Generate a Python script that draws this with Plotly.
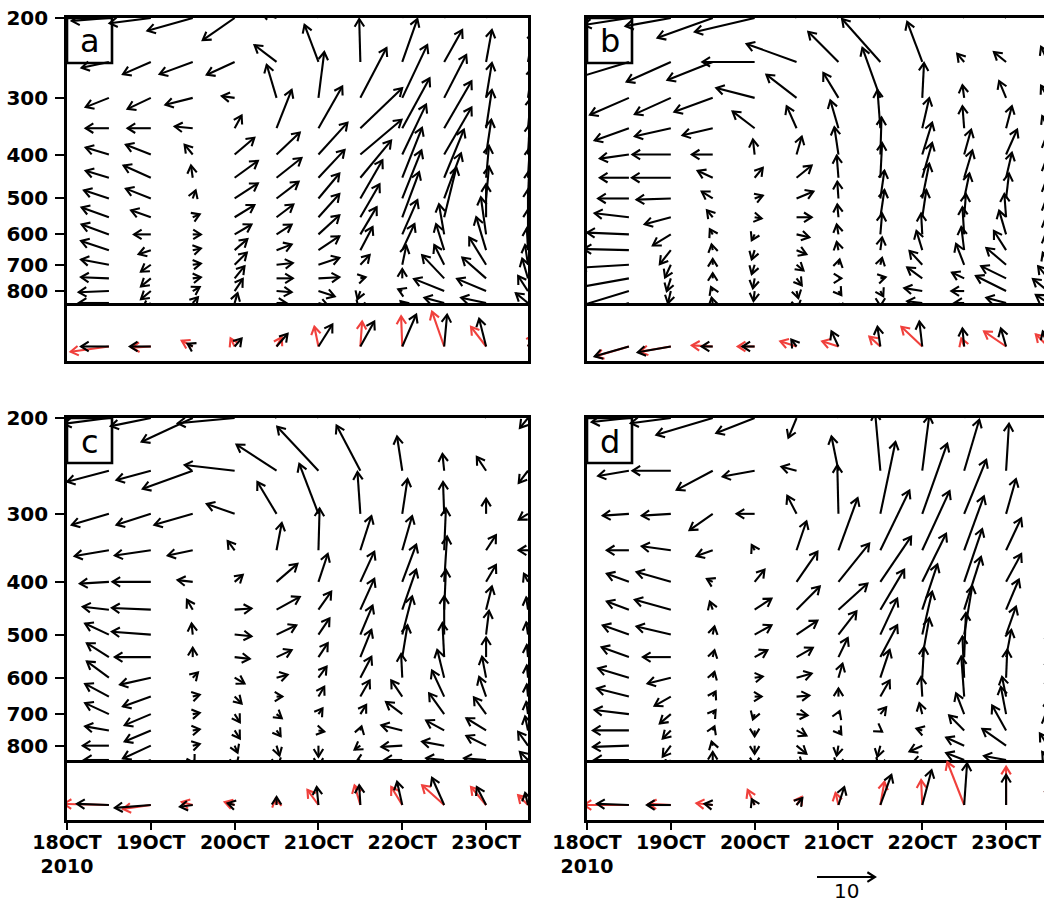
import math
import plotly.graph_objects as go

# ------------------------------------------------------------------ data
LEVELS = [200, 250, 300, 350, 400, 450, 500, 550, 600, 650, 700, 750, 800, 850]   # hPa
HOURS = [12, 24, 36, 48, 60, 72, 84, 96, 108, 120, 132]                           # h since 18 Oct 2010 00 UTC
TICK_HOURS = [0, 24, 48, 72, 96, 120]
TICK_TEXT = ["18OCT<br>2010", "19OCT", "20OCT", "21OCT", "22OCT", "23OCT"]
P_TICKS = [200, 300, 400, 500, 600, 700, 800]
PANEL_LABELS = ["a", "b", "c", "d"]
REF_SPEED = 10

# horizontal component (m/s), rows = LEVELS, cols = HOURS
U_A = [
    [-6.4, -7.1, -7.8, -5.5, -2.6, -0.9, 0.0, 1.7, 1.7, 0.9, 0.9],
    [-4.7, -4.8, -5.7, -4.8, -3.8, -2.4, -0.2, 2.6, 3.1, 1.0, 0.9],
    [-4.0, -4.0, -4.7, -2.2, -1.7, 1.0, 4.5, 4.3, 3.8, 1.0, 0.7],
    [-4.0, -4.0, -3.1, 1.2, 2.6, 4.1, 7.2, 4.7, 4.7, 1.0, 0.5],
    [-4.0, -4.3, -1.4, 3.4, 4.0, 5.0, 7.1, 4.1, 4.7, 0.9, 0.3],
    [-4.0, -4.7, -0.3, 4.0, 4.3, 4.5, 5.3, 3.4, 3.4, 0.5, 0.3],
    [-4.3, -4.3, 0.5, 4.0, 3.8, 3.6, 3.8, 3.3, 2.9, 0.5, 0.2],
    [-4.7, -3.4, 1.2, 3.4, 2.9, 3.6, 3.3, 2.9, 2.1, 0.0, 0.0],
    [-4.7, -2.9, 1.4, 2.9, 2.6, 3.6, 2.8, 2.6, -0.9, -0.9, 0.0],
    [-4.8, -2.1, 1.4, 2.2, 2.6, 3.6, 2.1, 2.1, -1.4, -1.7, -0.2],
    [-4.8, -1.7, 1.4, 2.1, 2.8, 3.6, 1.6, 0.7, -1.7, -2.9, -0.5],
    [-4.8, -1.7, 1.4, 1.7, 2.8, 3.6, 0.9, 0.0, -3.8, -4.1, -1.0],
    [-5.2, -1.7, 1.2, 1.4, 2.6, 2.8, -0.5, -0.7, -5.2, -5.0, -1.7],
    [-5.2, -1.4, 0.9, 0.5, 1.7, 1.7, -0.3, -0.3, -3.4, -4.3, -2.1],
]
# vertical component (scaled, same vector units)
W_A = [
    [-0.5, -0.9, -2.2, -3.8, 0.9, 3.4, 5.2, 5.2, 4.3, 3.4, 5.2],
    [-1.0, -2.1, -2.1, -2.2, 2.9, 6.4, 7.4, 7.4, 5.5, 5.5, 5.2],
    [-1.6, -1.9, -1.2, 0.3, 5.7, 7.9, 8.6, 9.1, 7.4, 6.0, 5.2],
    [0.0, 0.0, 0.3, 2.2, 6.6, 7.2, 6.9, 8.6, 8.1, 6.6, 5.2],
    [1.2, 1.7, 1.7, 2.9, 3.8, 5.5, 6.0, 8.6, 8.1, 6.0, 5.2],
    [1.2, 2.1, 2.1, 2.9, 3.4, 4.8, 6.4, 8.6, 8.3, 5.5, 5.2],
    [1.4, 1.7, 1.4, 2.6, 2.9, 4.3, 6.6, 8.3, 7.8, 5.5, 4.8],
    [1.7, 1.2, 0.5, 2.1, 2.2, 4.0, 5.7, 7.8, 8.6, 5.7, 4.8],
    [1.7, 0.0, 0.0, 1.7, 1.7, 3.3, 4.7, 5.9, 5.2, 6.4, 4.3],
    [1.6, -0.7, 0.3, 1.9, 1.0, 2.4, 4.0, 4.5, 4.5, 5.7, 3.8],
    [0.9, -1.2, 0.2, 2.1, 0.3, 1.2, 1.7, 3.3, 3.4, 4.7, 3.4],
    [0.2, -1.4, 0.2, 2.1, 0.0, 0.2, 0.2, 1.6, 4.0, 3.6, 3.4],
    [-0.2, -1.4, 0.7, 2.1, -0.2, -0.9, -1.4, 0.3, 2.1, 2.1, 2.6],
    [0.0, -1.0, 1.0, 1.7, 0.0, -0.5, -0.9, 0.3, 0.9, 0.9, 1.7],
]
U_B = [
    [-7.8, -7.8, -9.5, -10.3, -1.7, -4.3, -5.2, -1.7, -0.9, -1.4, -0.9],
    [-9.5, -7.6, -7.8, -9.0, -8.6, -5.2, -6.6, -2.6, -1.2, -2.1, -1.2],
    [-6.7, -6.2, -6.6, -6.6, -5.2, -2.6, -3.1, 0.3, -0.3, -1.2, -1.2],
    [-5.9, -6.2, -5.2, -3.8, -1.7, -1.4, -0.5, 1.2, -0.3, 1.0, -1.0],
    [-5.0, -6.6, -3.6, -0.3, 0.9, -0.7, 0.2, 1.7, 1.2, 1.9, -0.5],
    [-5.0, -6.7, -2.6, 1.4, 2.6, -0.3, 0.3, 1.7, 1.4, 1.0, -0.5],
    [-5.3, -5.9, -1.9, 1.4, 2.9, -0.2, 0.7, 1.2, 0.9, 0.5, -0.5],
    [-5.9, -4.5, -1.0, 1.2, 2.6, -0.2, 0.7, 0.7, 0.3, -0.3, -0.5],
    [-7.2, -3.1, -0.5, -0.5, 2.2, -0.3, 0.3, -0.2, -0.3, -1.2, -0.5],
    [-7.8, -1.9, -0.2, -0.5, 1.7, -0.3, 0.3, -1.0, -0.5, -2.1, -0.5],
    [-8.6, -1.0, 0.0, -0.5, 1.2, 0.2, 0.3, -2.2, -1.4, -3.4, -0.9],
    [-9.5, -0.7, 0.0, -0.3, 0.9, 0.5, 0.9, -2.6, -2.1, -4.3, -1.7],
    [-8.6, -0.5, -0.3, -0.2, 0.3, 0.5, 0.5, -3.1, -2.2, -5.2, -2.6],
    [-7.8, -0.3, -0.2, 0.0, 0.2, 0.3, 0.0, -2.6, -1.7, -3.4, -2.1],
]
W_B = [
    [-1.2, -1.4, -3.4, -2.4, 2.6, 4.3, 5.2, 5.2, 1.7, 1.7, 1.7],
    [-2.9, -3.4, -3.1, 0.0, 3.1, 5.2, 7.4, 6.9, 1.4, 1.7, 2.6],
    [-2.9, -2.8, -2.4, 1.7, 4.0, 4.3, 8.6, 6.0, 2.2, 2.9, 2.1],
    [-2.1, -1.4, -1.2, 2.9, 3.8, 4.8, 6.6, 5.2, 3.8, 3.8, 2.1],
    [-0.7, 0.0, 0.0, 2.6, 3.1, 4.7, 6.4, 5.5, 4.3, 4.3, 2.6],
    [0.0, 0.0, 1.2, 1.7, 2.1, 3.8, 6.0, 6.0, 4.7, 4.3, 2.6],
    [0.0, -0.2, 1.2, 0.5, 1.2, 2.9, 4.8, 6.0, 4.3, 4.3, 2.6],
    [0.7, -1.2, 1.2, -0.2, 0.0, 2.2, 4.7, 4.7, 4.0, 4.0, 2.6],
    [0.3, -1.9, 0.9, -1.0, -0.5, 1.7, 3.6, 3.6, 4.7, 4.1, 2.6],
    [0.2, -2.4, 1.0, -1.6, -0.7, 1.4, 2.2, 3.3, 4.0, 3.3, 2.6],
    [-0.5, -2.2, 1.0, -1.6, -1.0, 0.9, 1.2, 2.4, 3.6, 2.9, 2.1],
    [-1.7, -2.2, 0.9, -1.7, -1.2, 0.0, 0.2, 1.9, 1.0, 2.1, 2.1],
    [-2.6, -2.1, 0.7, -1.7, -1.2, -0.7, -0.9, 0.5, 0.0, 2.6, 2.1],
    [-2.6, -1.7, 0.9, -1.4, -0.9, -1.4, -0.5, 0.3, 0.0, 0.9, 1.4],
]
U_C = [
    [-7.8, -6.9, -8.8, -9.8, -3.4, -2.6, -2.6, -0.3, -0.2, -0.9, -1.4],
    [-7.2, -5.9, -8.6, -8.6, -6.9, -7.1, -4.1, -0.9, -0.3, -1.6, -1.6],
    [-6.4, -5.9, -6.6, -4.8, -3.3, -3.3, -0.5, 0.9, -0.2, 0.0, -1.6],
    [-5.9, -6.2, -4.3, -1.2, 0.9, 0.2, 1.9, 1.7, 0.3, 1.7, -1.6],
    [-5.0, -6.6, -2.6, 1.4, 3.6, 1.6, 2.4, 2.4, 0.5, 1.7, -0.7],
    [-4.5, -6.7, -1.0, 2.9, 4.0, 2.2, 2.4, 2.4, 0.3, 1.0, -0.3],
    [-4.1, -6.7, -0.2, 2.9, 3.4, 1.9, 2.1, 1.7, 0.0, 0.5, -0.3],
    [-3.8, -6.2, 0.0, 2.6, 2.6, 1.6, 1.9, 0.9, -0.3, 0.0, -0.2],
    [-3.8, -5.3, 0.9, 1.7, 1.9, 1.4, 1.9, -0.2, -1.2, -0.7, -0.2],
    [-4.1, -4.8, 1.2, 1.2, 1.0, 1.0, 1.6, -1.9, -2.1, -1.2, -0.2],
    [-4.1, -4.5, 1.2, 0.9, 0.9, 0.7, 1.0, -2.8, -2.6, -2.1, -0.3],
    [-4.1, -4.5, 1.2, 0.9, 0.7, 1.0, 0.2, -3.6, -3.1, -3.4, -0.5],
    [-4.5, -4.8, 1.2, 0.5, 0.5, 0.0, -1.0, -3.6, -3.8, -3.4, -1.7],
    [-4.3, -4.3, 0.3, 0.3, 0.2, 0.0, -0.7, -3.1, -3.1, -3.8, -1.4],
]
W_C = [
    [-1.0, -1.4, -4.1, -0.9, 2.6, 4.3, 5.2, 4.3, 2.1, 1.7, -1.7],
    [-1.9, -1.6, -3.1, 1.0, 4.5, 7.6, 7.8, 5.9, 2.9, 2.4, -2.1],
    [-1.9, -1.9, -1.9, 1.7, 5.5, 8.6, 7.2, 6.0, 5.5, 2.6, -1.0],
    [-1.0, -0.9, -0.9, 1.6, 4.7, 7.2, 5.9, 5.9, 7.2, 2.6, 0.0],
    [-0.3, 0.0, 0.3, 1.2, 3.1, 4.8, 5.2, 6.4, 7.8, 2.9, 1.4],
    [0.5, 0.3, 1.7, 0.2, 2.2, 3.1, 5.3, 6.9, 6.9, 4.0, 2.1],
    [1.9, 0.5, 1.9, -0.3, 1.6, 2.8, 5.0, 6.6, 6.6, 4.1, 2.1],
    [2.4, 0.0, 1.6, -0.3, 1.2, 2.4, 4.7, 5.5, 5.9, 3.4, 2.1],
    [2.8, -1.2, 0.9, -1.0, 0.5, 1.9, 3.6, 4.1, 4.8, 3.6, 2.1],
    [2.2, -1.7, 0.3, -1.2, 0.0, 1.7, 2.8, 2.8, 4.5, 3.4, 2.1],
    [1.9, -1.9, 0.2, -1.4, -0.7, 1.0, 1.6, 2.1, 3.6, 2.9, 2.1],
    [0.7, -1.9, 0.2, -1.4, -1.0, -0.2, 0.7, 0.9, 1.7, 2.1, 2.4],
    [0.0, -2.2, 0.3, -1.2, -1.7, -1.9, -0.7, -0.2, 0.7, 1.7, 2.4],
    [0.0, -1.7, -0.5, -0.9, -1.0, -1.0, -0.3, 0.0, 0.3, 0.3, 1.4],
]
U_D = [
    [-6.4, -6.9, -9.7, -6.6, -1.4, -0.9, -0.9, 0.9, 1.7, 0.3, 0.5],
    [-5.3, -6.6, -6.2, -5.5, -2.6, -1.2, -0.9, 1.2, 2.6, 0.5, 0.5],
    [-4.5, -5.0, -4.0, -3.1, -1.6, -0.2, 2.6, 4.3, 3.8, 1.7, 0.5],
    [-3.8, -5.0, -2.8, -0.5, 1.7, 3.3, 5.0, 4.7, 3.4, 2.6, 0.5],
    [-3.8, -5.9, -1.0, 1.7, 3.6, 5.3, 5.3, 4.1, 3.1, 2.6, 0.5],
    [-3.8, -6.2, -0.5, 2.9, 4.0, 5.0, 4.1, 2.6, 2.9, 2.2, 0.5],
    [-4.5, -5.9, 0.3, 2.9, 3.6, 3.1, 2.9, 1.7, 1.4, 1.7, 0.5],
    [-4.7, -4.8, 0.3, 2.2, 2.8, 1.6, 2.9, 1.2, 0.3, 0.9, 0.3],
    [-5.3, -4.0, 0.3, 1.4, 2.6, 0.7, 1.6, 0.3, -0.3, 0.2, 0.3],
    [-5.5, -2.8, 0.5, 1.2, 2.2, 0.0, 1.6, -0.2, -0.5, -0.7, 0.3],
    [-5.9, -1.9, 0.5, -0.3, 1.9, 0.2, 1.0, -0.5, -1.4, -0.9, 0.0],
    [-6.2, -1.4, 0.3, 0.0, 1.7, 0.5, 0.3, -1.0, -2.6, -2.4, -0.5],
    [-6.2, -1.4, -0.2, 0.0, 1.7, -0.3, -0.5, -2.2, -3.1, -4.1, -1.4],
    [-6.0, -0.9, 0.0, 0.0, 1.0, -0.2, -0.3, -1.7, -3.1, -3.8, -1.0],
]
W_D = [
    [-0.7, -0.9, -2.9, -2.6, -3.4, 4.3, 6.9, 6.9, 6.9, 6.0, 5.2],
    [-0.9, 0.0, -3.3, -1.0, 0.7, 5.9, 10.0, 9.5, 8.8, 8.1, 5.2],
    [-0.3, -0.3, -2.8, 0.0, 3.1, 8.4, 12.4, 12.1, 9.3, 6.0, 5.2],
    [0.0, 0.7, -1.0, 0.9, 5.0, 9.0, 10.3, 10.2, 9.3, 5.5, 5.2],
    [1.4, 1.7, 0.5, 2.1, 5.2, 6.6, 7.8, 8.3, 9.1, 4.8, 4.3],
    [1.4, 1.7, 1.4, 1.9, 4.0, 4.5, 6.9, 7.8, 9.1, 5.2, 4.3],
    [1.6, 1.4, 1.4, 1.6, 2.4, 4.0, 6.2, 7.4, 8.4, 4.8, 4.3],
    [1.7, 0.0, 1.2, 1.2, 1.6, 3.3, 5.5, 6.7, 7.6, 4.7, 4.3],
    [1.6, -1.0, 1.0, 0.2, 0.7, 2.4, 4.8, 5.3, 7.1, 4.8, 3.4],
    [1.4, -1.6, 0.9, 0.0, 0.2, 1.4, 2.8, 3.4, 6.9, 3.4, 3.4],
    [0.7, -1.6, 0.7, -0.9, -0.2, 0.5, 1.2, 1.9, 3.6, 4.7, 2.6],
    [0.0, -1.4, 0.7, -1.0, -0.9, -0.7, -0.2, 0.3, 2.6, 4.3, 2.6],
    [-0.2, -1.9, 0.7, -1.4, -1.4, -1.7, -1.9, -1.0, 1.4, 2.9, 2.1],
    [0.0, -1.4, 1.4, -0.9, -0.9, -1.0, -1.0, -0.5, 1.2, 0.7, 1.4],
]

# surface vectors (lower strips): black and red series
SFC_BLACK_U_A = [-4.8, -3.6, -0.9, 1.2, 1.9, 2.4, 2.4, 2.4, 0.5, -1.2, 1.4]
SFC_BLACK_W_A = [0.0, 0.0, 0.5, 1.4, 2.2, 3.8, 4.3, 5.5, 5.5, 4.8, 3.1]
SFC_RED_U_A = [-6.6, -3.3, -1.9, -0.7, 0.9, -0.7, 0.3, -0.2, -2.1, -2.6, 1.0]
SFC_RED_W_A = [-0.9, -0.2, 1.0, 1.4, 1.6, 3.4, 4.3, 5.2, 6.0, 3.4, 2.1]
SFC_BLACK_U_B = [-5.9, -5.7, -1.9, -2.1, -0.9, -1.2, -0.5, -0.5, -0.3, -0.9, -0.9]
SFC_BLACK_W_B = [-1.7, -1.0, 0.0, 0.0, 1.2, 2.6, 3.4, 4.3, 3.1, 3.1, 2.6]
SFC_RED_U_B = [-5.7, -5.3, -3.6, -2.9, -2.8, -2.8, -1.9, -3.6, -0.5, -3.8, -2.1]
SFC_RED_W_B = [-1.7, -0.9, 0.2, 0.0, 0.9, 0.9, 1.7, 3.4, 1.4, 2.6, 2.1]
SFC_BLACK_U_C = [-5.5, -6.2, -2.2, -1.2, 0.0, -0.3, -0.2, -0.9, -2.1, -1.6, -0.5]
SFC_BLACK_W_C = [0.2, -0.5, -0.3, 0.3, 1.4, 3.1, 3.4, 4.0, 4.7, 3.1, 2.1]
SFC_RED_U_C = [-7.8, -4.8, -1.9, -1.7, -0.2, -1.9, -1.0, -1.9, -3.8, -2.6, -1.7]
SFC_RED_W_C = [0.2, -0.7, 0.5, 0.5, 1.0, 2.6, 3.4, 3.1, 3.4, 3.1, 1.7]
SFC_BLACK_U_D = [-5.5, -4.1, -1.4, -0.5, 1.0, 1.0, 1.9, 1.6, 0.5, 0.0, 0.3]
SFC_BLACK_W_D = [0.2, 0.0, 0.2, 1.0, 1.2, 3.1, 5.2, 6.0, 7.2, 5.2, 3.4]
SFC_RED_U_D = [-7.8, -3.8, -2.8, -1.2, 0.9, -0.5, 0.7, -0.2, -2.9, 0.0, 0.3]
SFC_RED_W_D = [0.0, 0.2, 0.3, 2.6, 1.4, 2.1, 4.0, 4.3, 7.4, 6.6, 3.4]

# ------------------------------------------------------------------ style / layout
FIG_W, FIG_H = 1044, 903
COLS_PX = [(67, 528), (587, 1048)]            # left / right panel x extent (right one cut by page)
ROWS_PX = [(18, 303, 361), (418, 760, 820)]   # top, split, bottom of each panel row
X_SPAN_H = 132.0                              # 18OCT00 .. 23OCT12
PX_PER_MS = 5.8                               # vector scale (10 m/s = 58 px)
HEAD_LEN, HEAD_ANG = 9.0, 32.0
SFC_LEVEL = 0.25                              # position of surface vectors in lower strip
BLACK, RED = "#000000", "#f0403c"
LW_ARROW, LW_FRAME = 2.1, 2.6
FONT = "DejaVu Sans"
BOX_PX = 45
REF_TAIL_PX = (817, 877)


def quiver_xy(xs, ys, us, ws, x_to_px, x_from_px, y_to_px, y_from_px):
    ca, sa = math.cos(math.radians(HEAD_ANG)), math.sin(math.radians(HEAD_ANG))
    ox, oy = [], []
    for x, y, u, w in zip(xs, ys, us, ws):
        dx, dy = u * PX_PER_MS, w * PX_PER_MS
        L = math.hypot(dx, dy)
        if L < 0.5:
            continue
        X0, Y0 = x_to_px(x), y_to_px(y)
        X1, Y1 = X0 + dx, Y0 + dy
        ex, ey = dx / L, dy / L
        b1 = (X1 - HEAD_LEN * (ex * ca - ey * sa), Y1 - HEAD_LEN * (ex * sa + ey * ca))
        b2 = (X1 - HEAD_LEN * (ex * ca + ey * sa), Y1 - HEAD_LEN * (-ex * sa + ey * ca))
        for pt in [(X0, Y0), (X1, Y1), None, b1, (X1, Y1), b2, None]:
            if pt is None:
                ox.append(None)
                oy.append(None)
            else:
                ox.append(x_from_px(pt[0]))
                oy.append(y_from_px(pt[1]))
    return ox, oy


PANELS = [
    (0, 0, U_A, W_A, SFC_BLACK_U_A, SFC_BLACK_W_A, SFC_RED_U_A, SFC_RED_W_A),
    (1, 0, U_B, W_B, SFC_BLACK_U_B, SFC_BLACK_W_B, SFC_RED_U_B, SFC_RED_W_B),
    (0, 1, U_C, W_C, SFC_BLACK_U_C, SFC_BLACK_W_C, SFC_RED_U_C, SFC_RED_W_C),
    (1, 1, U_D, W_D, SFC_BLACK_U_D, SFC_BLACK_W_D, SFC_RED_U_D, SFC_RED_W_D),
]

fig = go.Figure()
layout = dict(
    width=FIG_W, height=FIG_H, autosize=False,
    margin=dict(l=0, r=0, t=0, b=0, pad=0, autoexpand=False),
    paper_bgcolor="white", plot_bgcolor="rgba(0,0,0,0)",
    showlegend=False, shapes=[], annotations=[],
)

LOG_BOT, LOG_TOP = math.log10(850), math.log10(200)

for i, (ci, ri, U, W, bu, bw, ru, rw) in enumerate(PANELS):
    x0, x1 = COLS_PX[ci]
    x1v = min(x1, FIG_W)
    top, mid, bot = ROWS_PX[ri]
    px_per_h = (x1 - x0) / X_SPAN_H
    xr = [0, (x1v - x0) / px_per_h]
    is_left = ci == 0
    is_bottom = ri == 1
    nu, nl = 2 * i + 1, 2 * i + 2
    xd = [x0 / FIG_W, x1v / FIG_W]
    h_up = mid - top
    h_lo = bot - mid
    kdec = h_up / (LOG_BOT - LOG_TOP)

    frame = dict(showline=True, linecolor="black", linewidth=LW_FRAME, showgrid=False,
                 zeroline=False, automargin=False)

    layout[f"xaxis{nu}"] = dict(domain=xd, anchor=f"y{nu}", range=xr, mirror=True,
                                ticks="", showticklabels=False, **frame)
    layout[f"yaxis{nu}"] = dict(
        domain=[1 - mid / FIG_H, 1 - top / FIG_H], anchor=f"x{nu}", type="log",
        range=[LOG_BOT, LOG_TOP], mirror=is_left,
        tickvals=P_TICKS, ticktext=[str(p) for p in P_TICKS],
        ticks="outside" if is_left else "", ticklen=9, tickwidth=2, tickcolor="black",
        showticklabels=is_left, ticklabelstandoff=3,
        tickfont=dict(family=FONT, size=20, color="black", weight="bold"), **frame)
    layout[f"xaxis{nl}"] = dict(
        domain=xd, anchor=f"y{nl}", range=xr, mirror=False,
        tickvals=TICK_HOURS, ticktext=TICK_TEXT,
        ticks="outside" if is_bottom else "", ticklen=7, tickwidth=2, tickcolor="black",
        showticklabels=is_bottom, ticklabelstandoff=-4,
        tickfont=dict(family=FONT, size=19, color="black", weight="bold"), **frame)
    layout[f"yaxis{nl}"] = dict(domain=[1 - bot / FIG_H, 1 - mid / FIG_H], anchor=f"x{nl}",
                                range=[0, 1], mirror=is_left, ticks="", showticklabels=False, **frame)

    # upper: pressure-time cross section
    xs, ys, us, ws = [], [], [], []
    for li, p in enumerate(LEVELS):
        for tj, t in enumerate(HOURS):
            xs.append(t)
            ys.append(p)
            us.append(U[li][tj])
            ws.append(W[li][tj])
    qx, qy = quiver_xy(
        xs, ys, us, ws,
        lambda t, k=px_per_h: t * k, lambda X, k=px_per_h: X / k,
        lambda p, k=kdec: (LOG_BOT - math.log10(p)) * k,
        lambda Y, k=kdec: 10 ** (LOG_BOT - Y / k))
    fig.add_trace(go.Scatter(x=qx, y=qy, mode="lines", xaxis=f"x{nu}", yaxis=f"y{nu}",
                             line=dict(color=BLACK, width=LW_ARROW), hoverinfo="skip"))

    # lower: surface vectors
    for su, sw, col in ((ru, rw, RED), (bu, bw, BLACK)):
        qx, qy = quiver_xy(
            HOURS, [SFC_LEVEL] * len(HOURS), su, sw,
            lambda t, k=px_per_h: t * k, lambda X, k=px_per_h: X / k,
            lambda v, h=h_lo: v * h, lambda Y, h=h_lo: Y / h)
        fig.add_trace(go.Scatter(x=qx, y=qy, mode="lines", xaxis=f"x{nl}", yaxis=f"y{nl}",
                                 line=dict(color=col, width=LW_ARROW), hoverinfo="skip"))

    # panel label box
    layout["shapes"].append(dict(
        type="rect", xref="paper", yref="paper", layer="below",
        x0=x0 / FIG_W, x1=(x0 + BOX_PX) / FIG_W,
        y0=1 - (top + BOX_PX) / FIG_H, y1=1 - top / FIG_H,
        line=dict(color="black", width=LW_FRAME), fillcolor="white"))
    layout["annotations"].append(dict(
        xref="paper", yref="paper", showarrow=False,
        x=(x0 + BOX_PX / 2) / FIG_W, y=1 - (top + BOX_PX / 2 + 1) / FIG_H,
        xanchor="center", yanchor="middle", text=PANEL_LABELS[i],
        font=dict(family=FONT, size=32, color="black")))

# reference vector below panel d
rx, ry = quiver_xy(
    [REF_TAIL_PX[0]], [FIG_H - REF_TAIL_PX[1]], [REF_SPEED], [0.0],
    lambda X: X, lambda X: X / FIG_W, lambda Y: Y, lambda Y: Y / FIG_H)
path = ""
pen_up = True
for xv, yv in zip(rx, ry):
    if xv is None:
        pen_up = True
        continue
    path += ("M" if pen_up else "L") + f"{xv:.5f},{yv:.5f} "
    pen_up = False
layout["shapes"].append(dict(type="path", xref="paper", yref="paper", path=path.strip(),
                             line=dict(color="black", width=LW_ARROW)))
layout["annotations"].append(dict(
    xref="paper", yref="paper", showarrow=False,
    x=(REF_TAIL_PX[0] + REF_SPEED * PX_PER_MS / 2) / FIG_W, y=1 - (REF_TAIL_PX[1] + 14) / FIG_H,
    xanchor="center", yanchor="middle", text=str(REF_SPEED),
    font=dict(family=FONT, size=20, color="black")))

fig.update_layout(**layout)
fig.write_html("out.html")
